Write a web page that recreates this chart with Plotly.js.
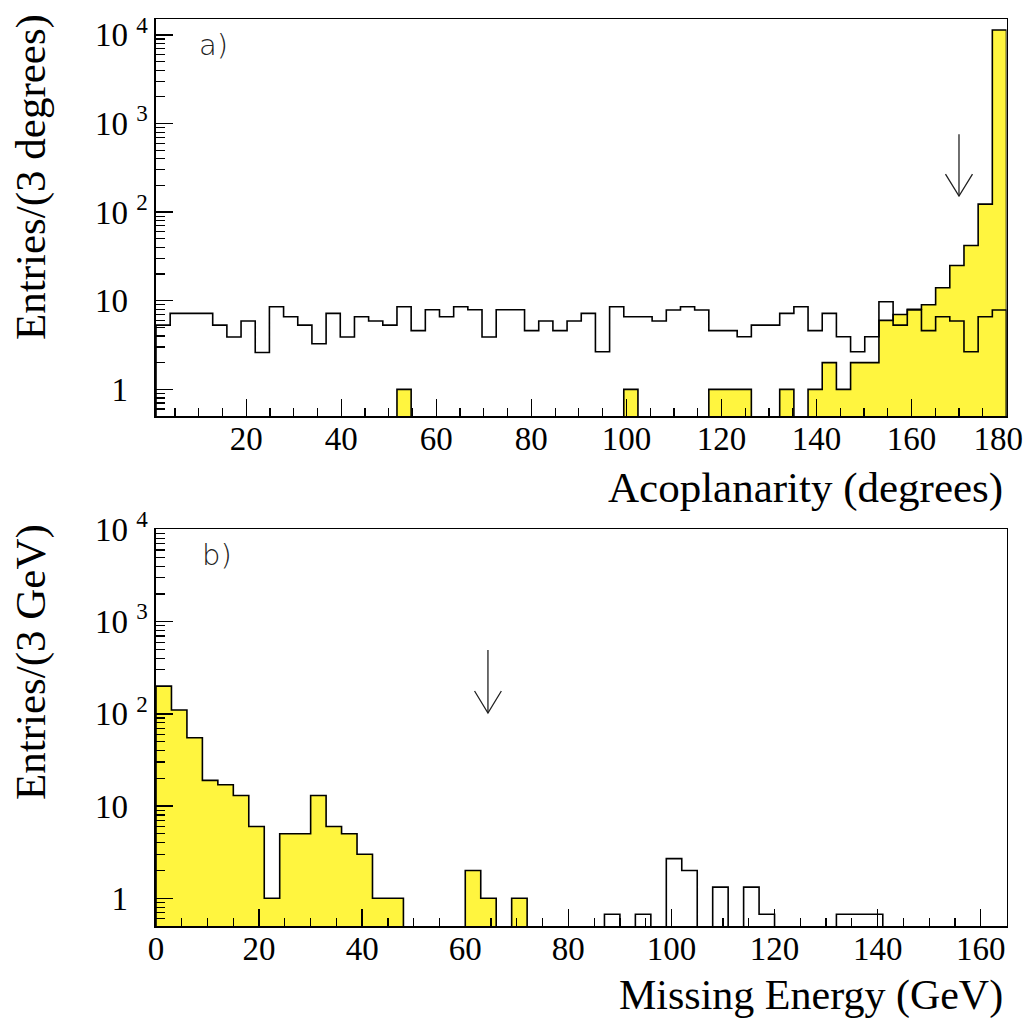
<!DOCTYPE html>
<html><head><meta charset="utf-8">
<script src="https://cdn.plot.ly/plotly-3.0.1.min.js"></script>
<style>html,body{margin:0;padding:0;background:#fff}</style>
</head><body><div id="chart" style="width:1035px;height:1019px"></div>
<script>
// ---- Panel a) : acoplanarity, 60 bins between 1 and 180 degrees ----
const acoLo = 1, acoHi = 180;
const acoData = [0,0,0,0,0,0,0,0,0,0,
                 0,0,0,0,0,0,0,1,0,0,
                 0,0,0,0,0,0,0,0,0,0,
                 0,0,0,1,0,0,0,0,0,1,
                 1,1,0,0,1,0,1,2,1,2,
                 2,6,7,8,9,14,25,42,123,11350];
const acoMC = [5.3,7.2,7.2,7.2,5.3,3.9,5.9,2.6,8.55,6.6,
               5.3,3.27,7.2,3.9,6.6,5.9,5.3,8.55,4.6,7.9,
               6.6,8.55,7.9,3.9,7.9,7.9,4.6,5.9,4.6,5.9,
               7.2,2.66,8.55,6.6,6.6,5.9,7.86,8.55,7.86,4.6,
               4.6,3.92,5.3,5.3,7.2,8.55,4.6,7.2,3.92,2.66,
               3.92,9.75,5.3,7.86,4.6,6.6,5.9,2.66,6.6,7.86];
const acoTicks = [20,40,60,80,100,120,140,160,180];
const acoTickText = ['20','40','60','80','100','120','140','160','180\u2007'];
const acoCut = 170;
const acoArrowY = [755, 152];     // arrow shaft top / tip
const acoArrowHead = 269;          // arrow head wing height
const acoArrowHalf = 2.84;         // arrow head half-width (degrees)

// ---- Panel b) : missing energy, 55 bins of 3 GeV between 0 and 165 GeV ----
const meLo = 0, meHi = 165;
const meData = [200,110,55,19,17,13,6,1,5,5,
                13,6,5,3,1,1,0,0,0,0,
                2,1,0,1,0,0,0,0,0,0,
                0,0,0,0,0,0,0,0,0,0,
                0,0,0,0,0,0,0,0,0,0,
                0,0,0,0,0];
const meMC = [0,0,0,0,0,0,0,0,0,0,
              0,0,0,0,0,0,0,0,0,0,
              0,0,0,0,0,0,0,0,0,0.67,
              0,0.67,0,2.69,2.0,0,1.32,0,1.32,0.67,
              0,0,0,0,0.67,0.67,0.67,0,0,0,
              0,0,0,0,0];
const meTicks = [0,20,40,60,80,100,120,140,160];
const meCut = 64.4;
const meArrowY = [492, 102];
const meArrowHead = 177;
const meArrowHalf = 2.6;

// ---- y tick labels (log axes) ----
const yTickVals = [1,10,100,1000,10000];
const yTickText = ['1\u00A0<sup>\u2007</sup>','10\u00A0<sup>\u2007</sup>','10\u00A0<sup>2</sup>','10\u00A0<sup>3</sup>','10\u00A0<sup>4</sup>'];

const YELLOW = '#fff53f';
const FLOOR = 1e-3;
const SERIF = 'Liberation Serif, Times New Roman, serif';

function stepXY(lo, hi, vals){
  const n = vals.length, w = (hi - lo) / n;
  const x = [lo], y = [FLOOR];
  for (let i = 0; i < n; i++){ x.push(lo + i*w); y.push(vals[i] > 0 ? vals[i] : FLOOR); }
  x.push(hi); y.push(vals[n-1] > 0 ? vals[n-1] : FLOOR);
  x.push(hi); y.push(FLOOR);
  return {x, y};
}

function histFill(lo, hi, vals, xa, ya){
  const s = stepXY(lo, hi, vals);
  return {x:s.x, y:s.y, xaxis:xa, yaxis:ya, type:'scatter', mode:'lines',
          line:{shape:'hv', color:'black', width:1.6}, fill:'toself', fillcolor:YELLOW,
          hoverinfo:'skip'};
}
function histLine(lo, hi, vals, xa, ya){
  const s = stepXY(lo, hi, vals);
  return {x:s.x, y:s.y, xaxis:xa, yaxis:ya, type:'scatter', mode:'lines',
          line:{shape:'hv', color:'black', width:1.6}, hoverinfo:'skip'};
}
function arrow(xc, ys, head, half, xa, ya){
  return [
    {x:[xc, xc], y:ys, xaxis:xa, yaxis:ya, type:'scatter', mode:'lines',
     line:{color:'#222', width:1.3}, hoverinfo:'skip'},
    {x:[xc-half, xc, xc+half], y:[head, ys[1], head], xaxis:xa, yaxis:ya, type:'scatter', mode:'lines',
     line:{color:'#222', width:1.3}, hoverinfo:'skip'}
  ];
}

const traces = [
  histFill(acoLo, acoHi, acoData, 'x', 'y'),
  histLine(acoLo, acoHi, acoMC, 'x', 'y'),
  ...arrow(acoCut, acoArrowY, acoArrowHead, acoArrowHalf, 'x', 'y'),
  histFill(meLo, meHi, meData, 'x2', 'y2'),
  histLine(meLo, meHi, meMC, 'x2', 'y2'),
  ...arrow(meCut, meArrowY, meArrowHead, meArrowHalf, 'x2', 'y2')
];

const W = 1035, H = 1019;
const xDom = [156/W, 1006.5/W];
const commonX = {
  ticks:'inside', ticklen:17, tickwidth:1.4, tickcolor:'black',
  minor:{ticks:'inside', ticklen:8, tickwidth:1.2, tickcolor:'black', dtick:5, tick0:0},
  showline:true, mirror:true, linecolor:'black', linewidth:1.6,
  showgrid:false, zeroline:false, tickmode:'array',
  tickfont:{family:SERIF, size:33, color:'black'}, ticklabelstandoff:-7,
  ticklabeloverflow:'allow'
};
const commonY = {
  type:'log', ticks:'inside', ticklen:17, tickwidth:1.4, tickcolor:'black',
  minor:{ticks:'inside', ticklen:9, tickwidth:1.2, tickcolor:'black', dtick:'D1'},
  showline:true, mirror:true, linecolor:'black', linewidth:1.6,
  showgrid:false, zeroline:false, tickmode:'array',
  tickvals:yTickVals, ticktext:yTickText,
  tickfont:{family:SERIF, size:33, color:'black'}, ticklabeloverflow:'allow'
};

const layout = {
  width:W, height:H, margin:{l:0, r:0, t:0, b:0},
  paper_bgcolor:'white', plot_bgcolor:'white', showlegend:false,
  font:{family:SERIF, color:'black'},
  xaxis:Object.assign({}, commonX, {domain:xDom, anchor:'y', range:[acoLo, acoHi],
        tickvals:acoTicks, ticktext:acoTickText}),
  yaxis:Object.assign({}, commonY, {domain:[1-416/H, 1-19.3/H], anchor:'x',
        range:[Math.log10(0.5), Math.log10(15000)]}),
  xaxis2:Object.assign({}, commonX, {domain:xDom, anchor:'y2', range:[meLo, meHi],
        tickvals:meTicks, ticktext:meTicks.map(String)}),
  yaxis2:Object.assign({}, commonY, {domain:[1-926/H, 1-529.3/H], anchor:'x2',
        range:[Math.log10(0.5), 4.002]}),
  annotations:[
    {text:'Acoplanarity (degrees)', xref:'paper', yref:'paper', x:1005/W, y:1-488/H,
     xanchor:'right', yanchor:'middle', showarrow:false, font:{family:SERIF, size:43, color:'black'}},
    {text:'Missing Energy (GeV)', xref:'paper', yref:'paper', x:1005/W, y:1-995/H,
     xanchor:'right', yanchor:'middle', showarrow:false, font:{family:SERIF, size:42, color:'black'}},
    {text:'Entries/(3 degrees)', xref:'paper', yref:'paper', x:31/W, y:1-12/H, textangle:-90,
     xanchor:'center', yanchor:'top', showarrow:false, font:{family:SERIF, size:43, color:'black'}},
    {text:'Entries/(3 GeV)', xref:'paper', yref:'paper', x:31/W, y:1-522/H, textangle:-90,
     xanchor:'center', yanchor:'top', showarrow:false, font:{family:SERIF, size:43, color:'black'}},
    {text:'a)', xref:'paper', yref:'paper', x:213/W, y:1-45/H, xanchor:'center', yanchor:'middle',
     showarrow:false, font:{family:'DejaVu Sans', size:29, color:'#222', weight:200}},
    {text:'b)', xref:'paper', yref:'paper', x:217/W, y:1-555/H, xanchor:'center', yanchor:'middle',
     showarrow:false, font:{family:'DejaVu Sans', size:29, color:'#222', weight:200}}
  ]
};

Plotly.newPlot('chart', traces, layout, {displayModeBar:false, staticPlot:true});
</script>
</body></html>
